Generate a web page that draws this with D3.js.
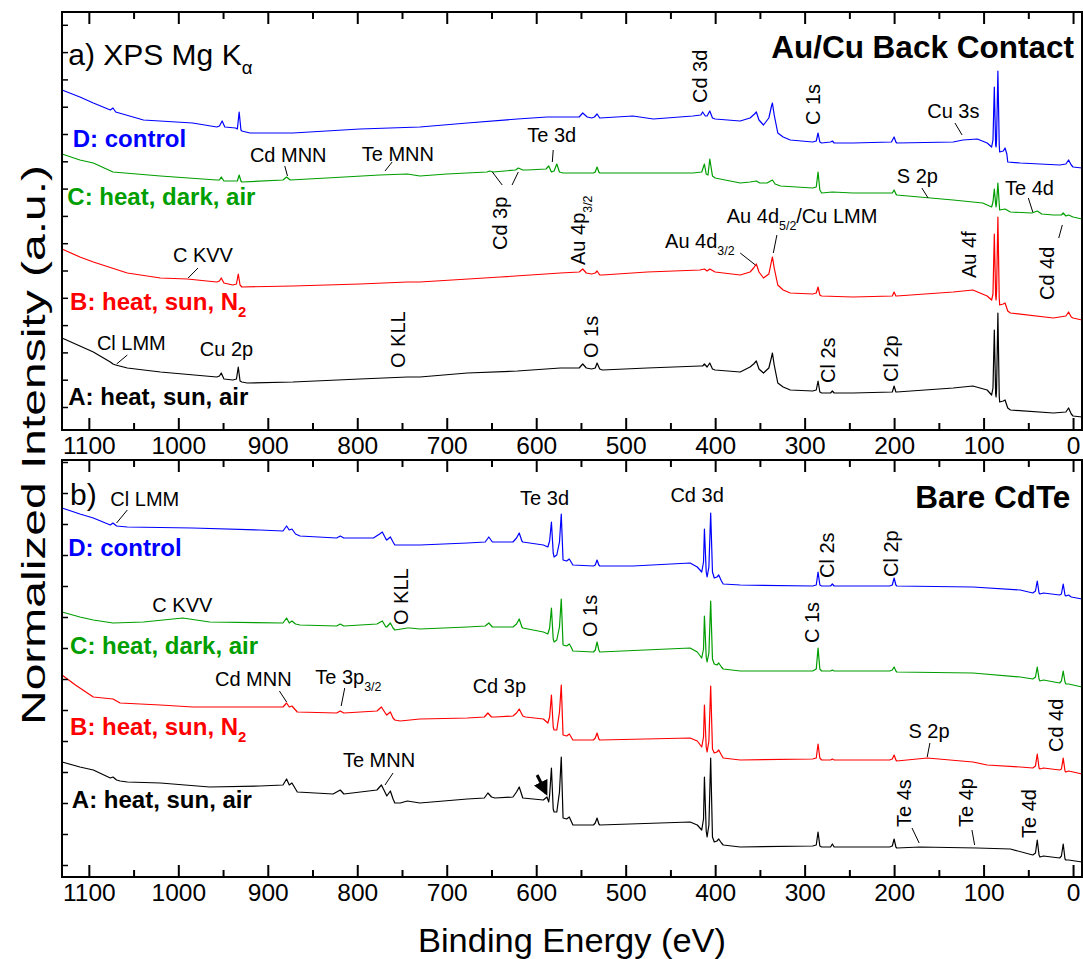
<!DOCTYPE html>
<html>
<head>
<meta charset="utf-8">
<script src="https://cdn.jsdelivr.net/npm/d3@7"></script>
<style>
  body { margin: 0; background: #fff; }
  svg { display: block; font-family: "Liberation Sans", Arial, Helvetica, sans-serif; }
</style>
</head>
<body>
<svg id="chart" width="1083" height="959"></svg>
<script>
// ---------- Binding-energy axis ----------
const energyDomain = [1130, -10];
const majorTicks = [1100, 1000, 900, 800, 700, 600, 500, 400, 300, 200, 100, 0];
const minorTicks = [1050, 950, 850, 750, 650, 550, 450, 350, 250, 150, 50];

// ---------- Panel a) Au/Cu back contact: [binding energy (eV), normalized intensity + offset] ----------
const backD = [[1130,34.0],[1110,33.3],[1095,32.7],[1076,32.0],[1073,32.2],[1070,31.8],[1039,31.0],[984,30.7],[957,30.3],[954,30.4],[951,30.9],[948,30.3],[936,30.2],[934,30.1],[932,31.8],[930,30.0],[929,29.9],[920,29.7],[872,29.7],[797,30.1],[730,30.3],[677,30.7],[621,31.1],[588,31.3],[552,31.3],[548,31.7],[543,31.3],[538,31.2],[535,31.3],[532,31.6],[529,31.2],[492,31.4],[469,31.1],[425,31.4],[416,31.5],[414,31.8],[411,31.4],[409,31.4],[406,31.9],[403,31.2],[400,31.1],[372,30.9],[361,31.2],[356,31.6],[354,31.8],[351,31.0],[346,30.5],[340,31.2],[337,32.4],[336,32.7],[334,31.5],[330,29.7],[324,29.3],[316,29.0],[291,28.8],[287,28.9],[285,29.7],[283,28.8],[281,28.7],[271,28.8],[269,28.9],[267,28.7],[246,28.7],[203,28.8],[200,29.3],[198,28.8],[197,28.7],[134,28.8],[123,29.0],[107,29.1],[96,28.7],[91,28.3],[89.5,29.0],[88,34.3],[86.5,28.5],[86,28.3],[85.5,29.0],[84,35.9],[82.5,28.5],[82,27.8],[78,27.9],[76,28.2],[74,27.6],[73,26.8],[59,26.7],[15,26.5],[8,26.6],[5,27.0],[2,26.5],[0,26.3],[-10,26.2]];
const backC = [[1130,27.6],[1110,27.0],[1095,26.7],[1073,25.8],[1020,25.4],[957,25.0],[954,25.0],[952,25.3],[949,24.9],[934,24.9],[932,25.5],[930,24.9],[929,24.8],[883,25.0],[879,25.3],[875,25.0],[834,25.2],[775,25.5],[744,25.6],[730,25.4],[700,25.6],[655,25.8],[652,25.9],[648,25.8],[623,26.0],[620,26.2],[615,26.0],[610,26.0],[589,26.1],[586,26.4],[583,25.8],[580,25.9],[577,26.6],[574,25.8],[570,25.7],[536,25.7],[534,25.8],[532,26.3],[530,25.8],[529,25.7],[492,25.7],[425,25.7],[415,25.8],[412,26.6],[410,25.6],[408,25.5],[406,27.1],[403,25.4],[400,25.2],[372,24.7],[361,24.8],[354,24.9],[350,24.7],[342,24.7],[336,25.0],[333,24.6],[327,24.4],[291,24.2],[287,24.3],[285,25.8],[283,24.0],[281,23.7],[269,23.8],[246,23.7],[202,23.7],[200,24.0],[198,23.6],[197,23.5],[134,23.0],[101,22.7],[91,22.3],[89.5,22.8],[88,24.1],[86.5,22.6],[86,22.3],[85.5,22.7],[84,24.7],[82.5,22.6],[82,22.0],[76,22.1],[70,21.8],[46,21.7],[40,21.9],[35,21.6],[22,21.5],[13,21.5],[11,21.7],[8,21.4],[5,21.5],[0,21.3],[-10,21.1]];
const backB = [[1130,18.1],[1110,17.3],[1095,16.8],[1057,15.7],[1020,15.2],[990,15.1],[957,14.8],[954,14.9],[952,15.2],[949,14.7],[939,14.5],[935,14.6],[933,15.6],[931,14.5],[929,14.3],[872,14.4],[797,14.6],[744,14.8],[730,14.8],[640,15.3],[573,15.7],[552,15.8],[548,16.1],[544,15.7],[538,15.6],[534,15.7],[532,15.9],[529,15.5],[526,15.5],[476,15.8],[417,16.0],[412,16.1],[409,15.9],[406,16.1],[400,15.8],[372,15.5],[361,15.8],[357,16.2],[354,16.6],[351,15.8],[346,15.2],[340,15.6],[337,16.9],[336,17.3],[334,16.2],[330,14.5],[324,14.0],[316,13.7],[291,13.6],[287,13.7],[285,14.3],[283,13.5],[281,13.4],[246,13.3],[202,13.4],[200,13.8],[198,13.4],[197,13.4],[134,13.8],[112,14.0],[96,13.4],[91,13.0],[89.5,13.6],[88,19.6],[86.5,13.4],[86,13.0],[85.5,13.8],[84,21.3],[82.5,13.2],[82,12.5],[78,12.6],[76,12.7],[73,11.9],[70,11.7],[22,11.2],[8,11.4],[5,11.8],[2,11.3],[0,11.2],[-10,11.0]];
const backA = [[1130,9.2],[1110,8.4],[1095,7.8],[1076,6.8],[1073,6.6],[1070,6.5],[1057,6.2],[1020,5.8],[957,5.3],[954,5.4],[952,5.7],[949,5.1],[939,5.0],[935,5.1],[933,6.3],[931,4.9],[929,4.8],[923,4.7],[872,4.8],[797,5.1],[744,5.3],[730,5.3],[677,5.7],[621,5.9],[573,6.2],[552,6.2],[548,6.6],[544,6.2],[538,6.1],[534,6.2],[532,6.7],[529,6.1],[526,6.0],[476,6.2],[417,6.4],[414,6.4],[412,6.6],[409,6.3],[406,6.7],[403,6.1],[400,6.0],[372,5.8],[361,6.3],[357,6.6],[354,6.9],[351,6.1],[346,5.7],[340,6.2],[337,7.3],[336,7.7],[334,6.5],[330,4.7],[324,4.3],[316,4.0],[291,3.9],[287,4.0],[285,4.9],[283,3.8],[281,3.7],[271,3.7],[269,3.9],[267,3.7],[246,3.7],[202,3.8],[200,4.4],[198,3.8],[197,3.8],[134,4.2],[112,4.4],[96,4.0],[91,3.5],[89.5,4.2],[88,10.0],[86.5,3.6],[86,3.3],[85.5,4.0],[84,11.7],[82.5,3.4],[82,2.8],[78,2.9],[76,3.0],[73,2.2],[70,2.0],[22,1.7],[8,1.8],[5,2.2],[2,1.6],[0,1.4],[-10,1.3]];

// ---------- Panel b) bare CdTe ----------
const bareD = [[1130,36.9],[1110,36.3],[1095,35.9],[1076,35.2],[1073,35.4],[1069,35.1],[1057,35.0],[984,34.9],[909,34.7],[883,34.6],[879,35.1],[876,34.7],[873,34.8],[869,34.3],[864,34.1],[823,33.9],[819,34.1],[815,33.9],[782,33.9],[775,34.3],[772,34.5],[768,33.8],[767,33.7],[763,34.0],[760,33.5],[758,33.2],[730,33.2],[677,33.4],[657,33.5],[653,34.0],[649,33.5],[646,33.5],[626,33.5],[622,33.9],[619,34.4],[616,33.6],[615,33.5],[592,33.2],[587,33.0],[585,33.6],[583,35.5],[581,32.4],[580,32.0],[577,32.2],[574,33.5],[572,36.3],[570,31.7],[566,31.6],[563,31.8],[561,31.5],[559,31.2],[536,31.1],[534,31.2],[532,31.7],[530,31.2],[529,31.1],[492,31.1],[428,31.4],[420,31.0],[415,30.5],[413,31.5],[412,34.8],[410,30.5],[409,30.0],[407,31.0],[405,36.4],[403,30.5],[401,29.9],[398,30.0],[396,30.2],[393,29.6],[391,29.3],[372,29.2],[291,29.1],[287,29.2],[285,30.5],[283,29.2],[281,29.1],[271,29.1],[269,29.3],[267,29.1],[205,29.1],[202,29.2],[200,29.9],[198,29.2],[197,29.1],[112,29.0],[59,28.7],[45,28.4],[42,28.6],[40,29.6],[38,28.4],[37,28.3],[33,28.4],[15,28.2],[13,28.3],[11,29.3],[9,28.2],[8,28.1],[5,28.2],[2,28.0],[-10,27.8]];
const bareC = [[1130,26.5],[1110,26.0],[1095,25.7],[1073,25.4],[1039,25.5],[995,25.9],[965,25.5],[883,25.4],[879,25.9],[876,25.4],[873,25.6],[869,25.3],[864,25.2],[823,25.1],[819,25.3],[815,25.1],[778,25.3],[772,25.6],[768,25.0],[767,25.0],[763,25.4],[760,24.9],[758,24.7],[744,24.9],[741,24.9],[730,24.8],[677,25.0],[657,25.1],[653,25.4],[649,25.0],[626,25.0],[622,25.3],[619,25.8],[616,25.0],[615,24.9],[592,24.5],[587,24.3],[585,24.9],[583,26.9],[581,23.8],[580,23.5],[577,23.7],[574,25.0],[572,27.8],[570,23.2],[566,23.1],[563,23.3],[561,23.0],[559,22.6],[536,22.5],[534,22.7],[532,23.5],[530,22.7],[529,22.5],[428,22.9],[420,22.5],[415,21.9],[413,22.8],[412,26.1],[410,22.0],[409,21.5],[407,22.4],[405,27.6],[403,21.8],[401,21.3],[398,21.2],[396,21.4],[393,21.0],[391,20.8],[372,20.6],[291,20.6],[287,20.8],[285,22.9],[283,20.8],[281,20.6],[271,20.6],[269,20.7],[267,20.6],[205,20.6],[202,20.7],[200,21.0],[198,20.6],[197,20.5],[112,20.4],[59,20.0],[45,19.8],[42,20.0],[40,21.0],[38,19.8],[37,19.6],[33,19.7],[15,19.4],[13,19.6],[11,20.6],[9,19.5],[8,19.3],[5,19.3],[-10,19.0]];
const bareB = [[1130,20.2],[1115,19.2],[1095,18.0],[1073,17.8],[1065,17.4],[1020,17.2],[984,17.0],[909,17.0],[883,17.0],[879,17.4],[876,17.0],[873,17.1],[867,16.5],[823,16.4],[819,16.6],[815,16.4],[778,16.6],[773,17.0],[768,16.3],[767,16.2],[763,16.5],[760,15.9],[758,15.7],[752,15.6],[730,15.8],[677,15.9],[658,16.0],[654,16.4],[650,16.0],[646,16.0],[626,16.1],[622,16.4],[619,16.8],[615,16.1],[612,16.0],[592,15.8],[587,15.4],[585,16.0],[583,18.2],[581,15.0],[580,14.7],[577,14.7],[574,16.5],[572,19.2],[570,14.2],[566,14.1],[563,14.3],[561,14.0],[559,13.7],[536,13.7],[534,13.9],[532,14.4],[530,13.8],[529,13.7],[428,13.9],[420,13.6],[415,13.0],[413,14.0],[412,17.2],[410,13.0],[409,12.5],[407,13.6],[405,19.1],[403,12.8],[401,12.4],[398,12.5],[396,12.7],[393,12.2],[391,11.9],[372,11.7],[291,11.8],[287,11.9],[285,13.3],[283,11.9],[281,11.7],[271,11.7],[269,11.8],[267,11.7],[205,11.7],[202,11.8],[200,12.2],[198,11.7],[197,11.6],[163,11.9],[112,11.5],[96,11.2],[59,11.0],[45,10.9],[42,11.1],[40,12.3],[38,10.9],[37,10.8],[33,10.9],[15,10.7],[13,10.8],[11,11.9],[9,10.6],[8,10.5],[5,10.6],[-10,10.3]];
const bareA = [[1130,11.5],[1110,11.0],[1095,10.7],[1076,9.9],[1073,10.0],[1069,9.7],[1065,9.6],[1057,9.5],[1020,9.4],[965,9.0],[909,9.1],[883,9.2],[879,9.8],[876,9.2],[873,9.4],[869,8.8],[867,8.5],[827,8.3],[819,8.7],[815,8.3],[778,8.7],[773,9.2],[768,8.3],[767,8.1],[763,8.6],[760,7.8],[758,7.4],[752,7.4],[744,7.6],[730,7.4],[677,7.8],[658,7.9],[654,8.4],[650,8.0],[646,7.9],[626,8.0],[622,8.5],[619,9.0],[615,7.9],[592,7.7],[588,8.0],[586,7.5],[585,8.2],[583,10.9],[581,6.8],[580,6.5],[577,6.5],[574,8.5],[572,12.0],[570,5.9],[566,5.8],[563,6.0],[561,5.6],[559,5.2],[536,5.2],[534,5.4],[532,5.9],[530,5.3],[529,5.2],[428,5.5],[420,5.2],[415,4.7],[413,5.8],[412,10.0],[410,4.6],[409,4.0],[407,5.2],[405,11.9],[403,4.0],[401,3.5],[398,3.6],[396,3.8],[393,3.4],[391,3.2],[372,3.0],[291,3.1],[287,3.2],[285,4.5],[283,3.1],[281,3.0],[271,3.0],[269,3.3],[267,3.0],[205,3.0],[202,3.1],[200,3.8],[198,3.0],[197,2.9],[171,3.0],[107,2.9],[70,2.8],[45,2.2],[42,2.4],[40,3.7],[38,2.2],[37,2.0],[33,2.1],[15,1.9],[13,2.1],[11,3.3],[9,1.8],[8,1.7],[5,1.7],[-10,1.5]];

// ---------- Sample names and colours (top to bottom) ----------
const sampleNames = ["D: control", "C: heat, dark, air", "B: heat, sun, N_{2}", "A: heat, sun, air"];
const sampleColors = ["#0000ff", "#009e00", "#ff0000", "#000000"];

// ---------- Annotations (positions in data units: eV, intensity) ----------
// sample-name anchors, one per trace
const backNameAt = [[1118,28.3],[1124,22.5],[1121,12.0],[1123,2.5]];
const bareNameAt = [[1123,32.1],[1121,22.3],[1121,14.2],[1119,6.9]];

// horizontal peak labels [text, eV, intensity]
const backPeakText = [["Cd MNN",920,26.8],["Te MNN",795,26.9],["Te 3d",610,28.8],["Cu 3s",163,31.2],["S 2p",197,24.7],["Te 4d",76,23.5],["Au 4d_{5/2}/Cu LMM",387,20.7],["Au 4d_{3/2}",456,18.2],["C KVV",1006,16.8],["Cl LMM",1091,8.0],["Cu 2p",976,7.4]];
const barePeakText = [["Cl LMM",1076,37.1],["Te 3d",618,37.2],["Cd 3d",450,37.5],["C KVV",1029,26.5],["Cd MNN",959,19.1],["Te 3p_{3/2}",847,19.3],["Cd 3p",671,18.4],["Te MNN",816,11.0],["S 2p",184,13.9]];

// vertical peak labels [text, eV at centre, intensity at start]
const backPeakVert = [["Cd 3p",633,18.0],["Au 4p_{3/2}",545,16.5],["Cd 3d",409,32.7],["C 1s",283,30.5],["Cd 4d",21,13.0],["Au 4f",108,15.2],["O KLL",747,6.2],["O 1s",531,7.2],["Cl 2s",266,4.7],["Cl 2p",196,4.8]];
const barePeakVert = [["Cl 2s",267,29.9],["Cl 2p",196,30.0],["O KLL",743,25.2],["O 1s",532,24.0],["C 1s",284,23.4],["Cd 4d",11,12.5],["Te 4s",181,5.0],["Te 4p",112,5.0],["Te 4d",41,3.9]];

// leader lines [eV1, I1, eV2, I2]
const backLeaders = [[881,26.4,878,25.4],[761,26.8,769,25.9],[581,28.0,582,26.8],[638,24.5,649,25.8],[627,24.5,620,25.8],[132,30.7,124,29.5],[169,24.2,162,23.2],[50,23.2,45,21.8],[12,20.5,16,19.2],[331,19.5,335,17.7],[372,17.7,355,16.5],[978,16.2,989,15.2],[1057,7.5,1069,6.6]];
const bareLeaders = [[1057,36.7,1069,35.4],[887,18.6,879,17.5],[814,18.9,818,17.1],[760,10.4,769,9.2],[160,13.4,163,12.0],[180,4.9,172,3.4],[113,4.7,110,3.2]];
const bareArrow = [599,10.2,589,8.4];

// left-axis tick positions (intensity units)
const backLeftTicks = d3.range(2.3, 41.8, 2.73);
const bareLeftTicks = d3.range(1.2, 41.7, 3.1);

// ---------- Layout ----------
const svg = d3.select("#chart");
const plotLeft = 62, plotRight = 1082;
const x = d3.scaleLinear().domain(energyDomain).range([plotLeft, plotRight]);

const panels = [
  { top: 12, bottom: 430, yMax: 41.8, traces: [backD, backC, backB, backA], names: backNameAt,
    title: "a) XPS Mg K_{α}", titleAt: [1123, 36.5], tag: "Au/Cu Back Contact", tagAt: [-1, 37.2],
    texts: backPeakText, verts: backPeakVert, leaders: backLeaders, leftTicks: backLeftTicks },
  { top: 460, bottom: 877, yMax: 41.7, traces: [bareD, bareC, bareB, bareA], names: bareNameAt,
    title: "b)", titleAt: [1121, 37.2], tag: "Bare CdTe", tagAt: [3, 36.9],
    texts: barePeakText, verts: barePeakVert, leaders: bareLeaders, leftTicks: bareLeftTicks, arrow: bareArrow }
];

// Arrow head marker
svg.append("defs").append("marker")
  .attr("id", "head").attr("viewBox", "0 0 10 10").attr("refX", 8).attr("refY", 5)
  .attr("markerWidth", 5).attr("markerHeight", 5).attr("orient", "auto")
  .append("path").attr("d", "M0,0 L10,5 L0,10 z").attr("fill", "#000");

// Write text with "_{...}" subscripts as tspans
function richText(sel, str, fs, subDrop) {
  const parts = str.split(/_\{([^}]*)\}/);
  let lowered = false;
  parts.forEach((p, i) => {
    if (!p) return;
    const sub = i % 2 === 1;
    let dy = 0;
    if (sub && !lowered) { dy = fs * subDrop; lowered = true; }
    else if (!sub && lowered) { dy = -fs * subDrop; lowered = false; }
    sel.append("tspan").attr("font-size", sub ? fs * 0.62 : fs).attr("dy", dy).text(p);
  });
}

const line = d3.line().x(d => x(d[0]));

panels.forEach(p => {
  const y = d3.scaleLinear().domain([0, p.yMax]).range([p.bottom, p.top]);
  const g = svg.append("g");

  // traces
  p.traces.forEach((tr, i) => {
    g.append("path").datum(tr)
      .attr("d", line.y(d => y(d[1])))
      .attr("fill", "none").attr("stroke", sampleColors[i])
      .attr("stroke-width", 1.2).attr("stroke-linejoin", "round");
  });

  // frame
  g.append("rect").attr("x", plotLeft).attr("y", p.top)
    .attr("width", plotRight - plotLeft).attr("height", p.bottom - p.top)
    .attr("fill", "none").attr("stroke", "#000").attr("stroke-width", 2);

  // bottom axis (inward ticks) with labels
  const axB = g.append("g").attr("transform", `translate(0,${p.bottom})`)
    .call(d3.axisBottom(x).tickValues(majorTicks).tickSizeInner(-12).tickSizeOuter(0).tickPadding(7).tickFormat(d3.format("d")));
  axB.select(".domain").remove();
  axB.selectAll("line").attr("stroke", "#000").attr("stroke-width", 2);
  axB.selectAll("text").attr("font-size", 24.5).attr("fill", "#000")
    .attr("font-family", "'Liberation Sans', Arial, sans-serif");
  const axBm = g.append("g").attr("transform", `translate(0,${p.bottom})`)
    .call(d3.axisBottom(x).tickValues(minorTicks).tickSizeInner(-7).tickSizeOuter(0).tickFormat(""));
  axBm.select(".domain").remove();
  axBm.selectAll("line").attr("stroke", "#000").attr("stroke-width", 2);

  // top axis (mirrored ticks, no labels)
  const axT = g.append("g").attr("transform", `translate(0,${p.top})`)
    .call(d3.axisTop(x).tickValues(majorTicks).tickSizeInner(-12).tickSizeOuter(0).tickFormat(""));
  axT.select(".domain").remove();
  axT.selectAll("line").attr("stroke", "#000").attr("stroke-width", 2);
  const axTm = g.append("g").attr("transform", `translate(0,${p.top})`)
    .call(d3.axisTop(x).tickValues(minorTicks).tickSizeInner(-7).tickSizeOuter(0).tickFormat(""));
  axTm.select(".domain").remove();
  axTm.selectAll("line").attr("stroke", "#000").attr("stroke-width", 2);

  // left axis ticks (no labels)
  const axL = g.append("g").attr("transform", `translate(${plotLeft},0)`)
    .call(d3.axisLeft(y).tickValues(p.leftTicks).tickSizeInner(-6).tickSizeOuter(0).tickFormat(""));
  axL.select(".domain").remove();
  axL.selectAll("line").attr("stroke", "#000").attr("stroke-width", 1.5);

  // sample names
  p.names.forEach((a, i) => {
    const t = g.append("text").attr("x", x(a[0])).attr("y", y(a[1]))
      .attr("fill", sampleColors[i]).attr("font-weight", "bold");
    richText(t, sampleNames[i], 24, 0.3);
  });

  // panel title and tag
  const tt = g.append("text").attr("x", x(p.titleAt[0])).attr("y", y(p.titleAt[1])).attr("fill", "#000");
  richText(tt, p.title, 30, 0.3);
  g.append("text").attr("x", x(p.tagAt[0])).attr("y", y(p.tagAt[1]))
    .attr("text-anchor", "end").attr("font-weight", "bold").attr("font-size", 31.5).attr("fill", "#000")
    .text(p.tag);

  // horizontal peak labels
  p.texts.forEach(a => {
    const t = g.append("text").attr("x", x(a[1])).attr("y", y(a[2])).attr("fill", "#000");
    richText(t, a[0], 20, 0.35);
  });

  // vertical peak labels
  p.verts.forEach(a => {
    const t = g.append("text")
      .attr("transform", `translate(${x(a[1])},${y(a[2])}) rotate(-90)`)
      .attr("dy", "0.35em").attr("fill", "#000");
    richText(t, a[0], 20, 0.35);
  });

  // leader lines
  p.leaders.forEach(l => {
    g.append("line").attr("x1", x(l[0])).attr("y1", y(l[1])).attr("x2", x(l[2])).attr("y2", y(l[3]))
      .attr("stroke", "#000").attr("stroke-width", 1);
  });

  if (p.arrow) {
    const a = p.arrow;
    g.append("line").attr("x1", x(a[0])).attr("y1", y(a[1])).attr("x2", x(a[2])).attr("y2", y(a[3]))
      .attr("stroke", "#000").attr("stroke-width", 3).attr("marker-end", "url(#head)");
  }
});

// axis titles
svg.append("text").attr("x", (plotLeft + plotRight) / 2).attr("y", 952)
  .attr("text-anchor", "middle").attr("font-size", 33).attr("fill", "#000")
  .attr("textLength", 308).attr("lengthAdjust", "spacingAndGlyphs")
  .text("Binding Energy (eV)");
svg.append("text").attr("transform", "translate(33,445) rotate(-90)")
  .attr("text-anchor", "middle").attr("dy", "0.35em").attr("font-size", 34).attr("fill", "#000")
  .attr("textLength", 560).attr("lengthAdjust", "spacingAndGlyphs")
  .text("Normalized Intensity (a.u.)");
</script>
</body>
</html>
